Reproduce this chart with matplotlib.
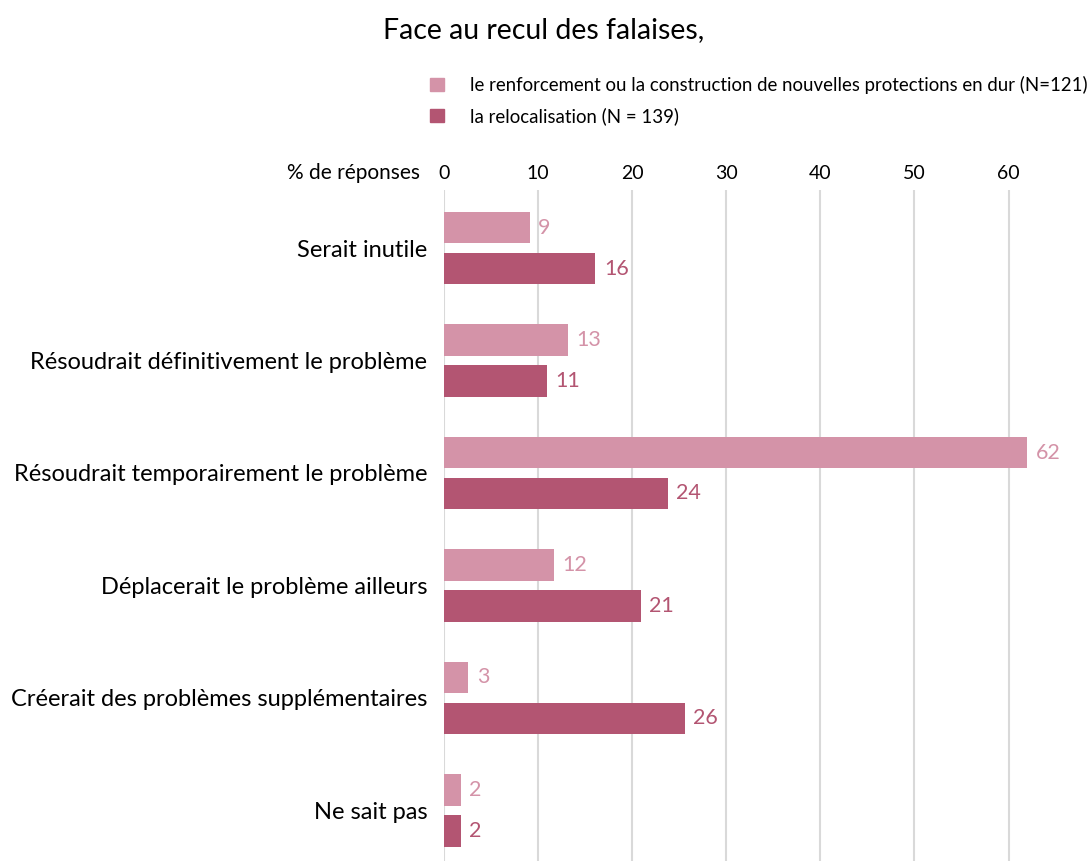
import matplotlib
matplotlib.use('Agg')
from matplotlib import pyplot as plt
from matplotlib.patches import Patch
import numpy as np

plt.rcParams['font.family'] = ['Lato', 'DejaVu Sans']

categories = ['Serait inutile',
              'Résoudrait définitivement le problème',
              'Résoudrait temporairement le problème',
              'Déplacerait le problème ailleurs',
              'Créerait des problèmes supplémentaires',
              'Ne sait pas']
renforcement = [9.1, 13.2, 62.0, 11.7, 2.6, 1.8]
relocalisation = [16.1, 10.9, 23.8, 20.9, 25.6, 1.8]
series_names = ['le renforcement ou la construction de nouvelles protections en dur (N=121)',
                'la relocalisation (N = 139)']
xticks = [0, 10, 20, 30, 40, 50, 60]

LIGHT = '#D493A8'
DARK = '#B35572'

fig = plt.figure(figsize=(10.91, 8.61), dpi=100)
ax = fig.add_axes([444 / 1091, 0.0, (1065 - 444) / 1091, (861 - 190) / 861])

y = np.arange(len(categories))
h = 0.28
off = 0.182
ax.barh(y - off, renforcement, height=h, color=LIGHT, zorder=3)
ax.barh(y + off, relocalisation, height=h, color=DARK, zorder=3)

for yi, v in zip(y, renforcement):
    ax.text(v + 0.9, yi - off, '%d' % round(v), color=LIGHT, fontsize=15.5,
            va='center', ha='left')
for yi, v in zip(y, relocalisation):
    ax.text(v + 0.9, yi + off, '%d' % round(v), color=DARK, fontsize=15.5,
            va='center', ha='left')

ax.set_xlim(0, 66)
ax.set_ylim(5.45, -0.516)
ax.set_xticks(xticks)
ax.xaxis.tick_top()
ax.tick_params(axis='x', length=0, labelsize=14, pad=5.5)
ax.tick_params(axis='y', length=0, labelsize=17, pad=12)
ax.set_yticks(y)
ax.set_yticklabels(categories)
ax.grid(axis='x', color='#D9D9D9', linewidth=1.5, zorder=0)
for s in ax.spines.values():
    s.set_visible(False)

fig.text(420 / 1091, 1 - 173 / 861, '% de réponses', fontsize=15,
         ha='right', va='center')
fig.text(544 / 1091, 1 - 30 / 861, 'Face au recul des falaises,', fontsize=20.5,
         ha='center', va='center')

handles = [Patch(color=LIGHT), Patch(color=DARK)]
fig.legend(handles, series_names, loc='upper left',
           bbox_to_anchor=(413 / 1091, 1 - 59 / 861), frameon=False,
           fontsize=13.4, handlelength=0.75, handleheight=0.75,
           handletextpad=1.4, labelspacing=0.72)

fig.savefig('out.png', dpi=100)
